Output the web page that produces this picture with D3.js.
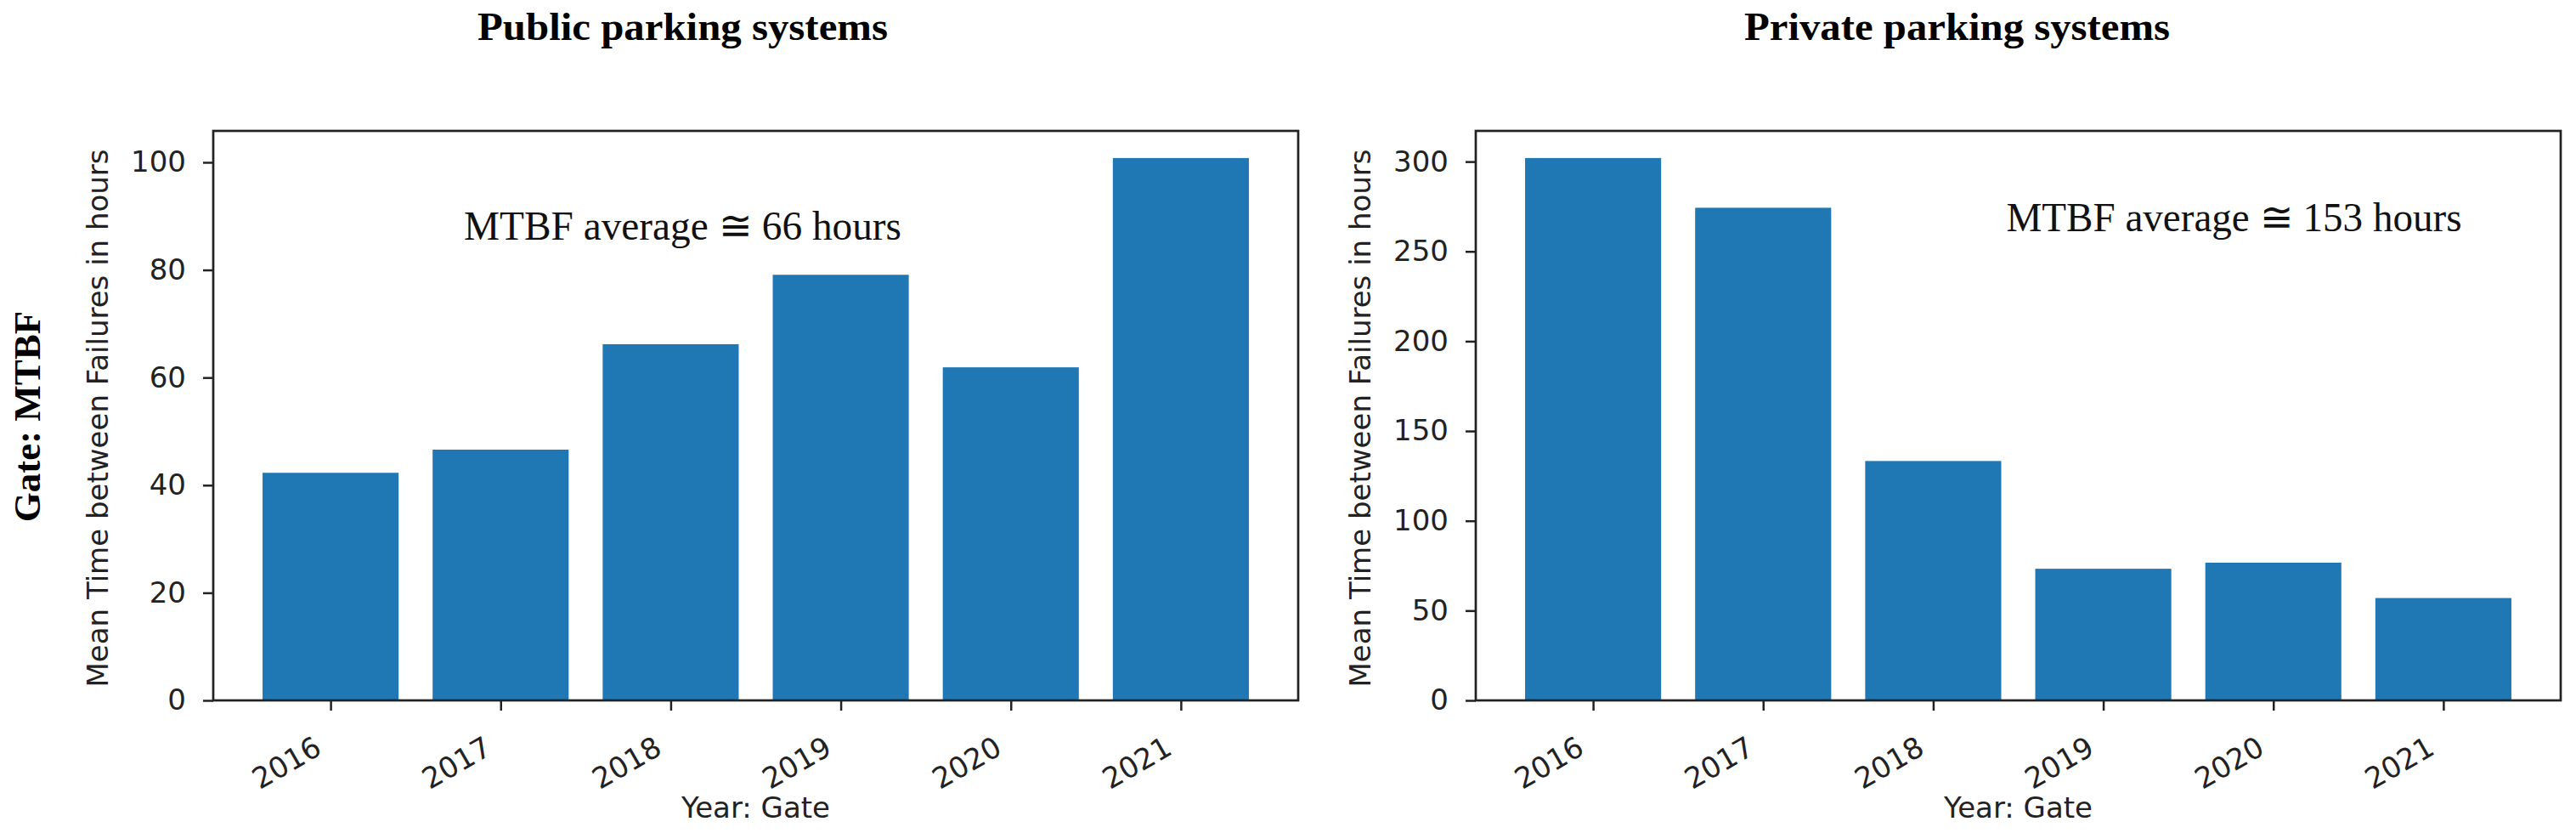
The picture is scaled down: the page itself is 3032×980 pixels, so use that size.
<!DOCTYPE html>
<html>
<head>
<meta charset="utf-8">
<script src="https://cdn.jsdelivr.net/npm/d3@7"></script>
<style>
  body { margin: 0; background: #fff; }
  svg { display: block; }
</style>
</head>
<body>
<div id="chart"></div>
<script>
// values
var years = ["2016", "2017", "2018", "2019", "2020", "2021"];
var publicMTBF = [42.3, 46.6, 66.2, 79.1, 61.9, 100.8];
var privateMTBF = [302, 274.3, 133.3, 73.3, 76.7, 57];
var publicTicks = [0, 20, 40, 60, 80, 100];
var privateTicks = [0, 50, 100, 150, 200, 250, 300];
var titles = ["Public parking systems", "Private parking systems"];
var notes = ["MTBF average \u2245 66 hours", "MTBF average \u2245 153 hours"];
var yLabel = "Mean Time between Failures in hours";
var xLabel = "Year: Gate";
var rowLabel = "Gate: MTBF";

var W = 3032, H = 980;
var plotTop = 154, ph = 670, pw = 1277;
var barColor = "#1f77b4";
var ink = "#222";

var svg = d3.select("#chart").append("svg")
    .attr("width", W)
    .attr("height", H);

svg.append("rect").attr("width", W).attr("height", H).attr("fill", "#fff");

function drawPanel(left, values, ticks, title, titleShift, titleLen, note, noteAt, noteLen) {
    var g = svg.append("g").attr("transform", "translate(" + left + "," + plotTop + ")");

    // matplotlib style: bars of width 0.8 and 5% margins
    var x = d3.scaleLinear().domain([-0.69, years.length - 1 + 0.69]).range([0, pw]);
    var y = d3.scaleLinear().domain([0, d3.max(values) * 1.05]).range([ph, 0]);

    g.selectAll("rect.bar")
        .data(values)
        .enter()
        .append("rect")
        .attr("class", "bar")
        .attr("x", function(d, i){ return x(i - 0.4); })
        .attr("width", x(0.8) - x(0))
        .attr("y", function(d){ return y(d); })
        .attr("height", function(d){ return ph - y(d); })
        .attr("fill", barColor);

    var yAxis = g.append("g")
        .call(d3.axisLeft(y).tickValues(ticks).tickSize(12).tickPadding(20));
    yAxis.select(".domain").remove();
    yAxis.selectAll("line").attr("stroke", ink).attr("stroke-width", 2.5);
    yAxis.selectAll("text")
        .style("font-family", "DejaVu Sans")
        .style("font-size", "34px")
        .attr("fill", ink);

    var xAxis = g.append("g")
        .attr("transform", "translate(0," + ph + ")")
        .call(d3.axisBottom(x).tickValues(d3.range(years.length))
              .tickFormat(function(i){ return years[i]; }).tickSize(12));
    xAxis.select(".domain").remove();
    xAxis.selectAll("line").attr("stroke", ink).attr("stroke-width", 2.5);
    xAxis.selectAll("text")
        .attr("y", 0)
        .attr("dy", 0)
        .attr("transform", "translate(-9,62) rotate(-30)")
        .style("text-anchor", "end")
        .style("font-family", "DejaVu Sans")
        .style("font-size", "34px")
        .attr("fill", ink);

    // frame
    g.append("rect")
        .attr("width", pw)
        .attr("height", ph)
        .attr("fill", "none")
        .attr("stroke", ink)
        .attr("stroke-width", 2.7);

    g.append("text")
        .attr("x", pw / 2)
        .attr("y", ph + 138)
        .attr("text-anchor", "middle")
        .style("font-family", "DejaVu Sans")
        .style("font-size", "34px")
        .attr("fill", ink)
        .text(xLabel);

    g.append("text")
        .attr("transform", "translate(-124," + (ph / 2 + 3) + ") rotate(-90)")
        .attr("text-anchor", "middle")
        .style("font-family", "DejaVu Sans")
        .style("font-size", "34px")
        .attr("fill", ink)
        .text(yLabel);

    g.append("text")
        .attr("x", x(noteAt[0]))
        .attr("y", y(noteAt[1]))
        .attr("textLength", noteLen)
        .attr("lengthAdjust", "spacingAndGlyphs")
        .style("font-family", "Liberation Serif")
        .style("font-size", "48px")
        .attr("fill", "#111")
        .text(note);

    g.append("text")
        .attr("x", pw / 2 + titleShift)
        .attr("y", 47 - plotTop)
        .attr("text-anchor", "middle")
        .attr("textLength", titleLen)
        .attr("lengthAdjust", "spacingAndGlyphs")
        .style("font-family", "Liberation Serif")
        .style("font-weight", "bold")
        .style("font-size", "46px")
        .attr("fill", "#000")
        .text(title);
}

drawPanel(251, publicMTBF, publicTicks, titles[0], -86, 483, notes[0], [0.784, 85.6], 515);
drawPanel(1737, privateMTBF, privateTicks, titles[1], -72, 501, notes[1], [2.43, 261.4], 536);

svg.append("text")
    .attr("transform", "translate(47,490) rotate(-90)")
    .attr("text-anchor", "middle")
    .style("font-family", "Liberation Serif")
    .style("font-weight", "bold")
    .style("font-size", "45px")
    .attr("fill", "#000")
    .text(rowLabel);
</script>
</body>
</html>
